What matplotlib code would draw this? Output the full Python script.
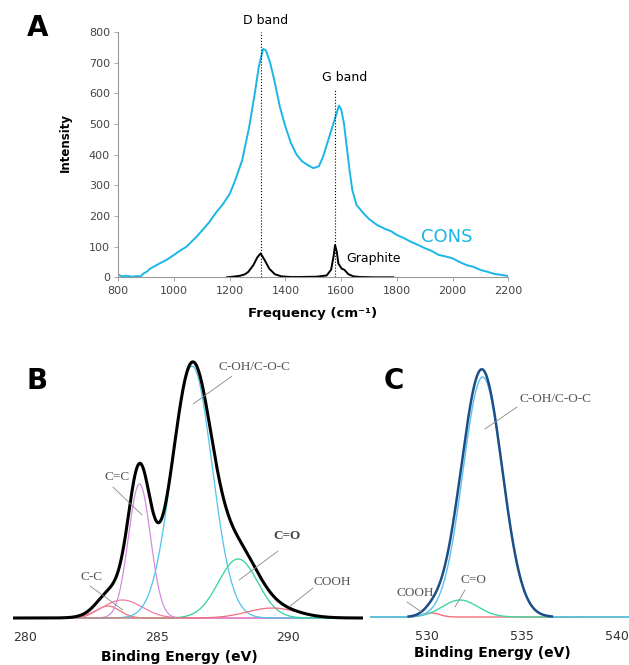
import numpy as np
import matplotlib
matplotlib.use("Agg")
import matplotlib.pyplot as plt

# ---- panel A: Raman spectra ----
cons_freq = [800, 815, 830, 850, 866, 880, 890, 905, 914, 930,
             950, 975, 1000, 1020, 1045, 1065, 1081, 1100, 1125, 1150,
             1175, 1200, 1220, 1245, 1270, 1290, 1305, 1320, 1330, 1345,
             1360, 1380, 1400, 1420, 1440, 1460, 1480, 1500, 1520, 1535,
             1550, 1565, 1580, 1592, 1600, 1610, 1620, 1630, 1640, 1655,
             1680, 1700, 1730, 1760, 1780, 1800, 1825, 1850, 1875, 1900,
             1925, 1950, 1975, 2000, 2025, 2050, 2075, 2100, 2125, 2150,
             2175, 2200]
cons_int = [8, 3, 5, 2, 4, 3, 12, 20, 28, 36,
            46, 58, 73, 86, 100, 118, 132, 152, 178, 210,
            238, 272, 317, 383, 491, 600, 690, 745, 740, 700,
            643, 556, 491, 437, 400, 378, 366, 356, 362, 393,
            437, 480, 524, 560, 548, 502, 426, 350, 285, 236,
            209, 190, 170, 157, 150, 138, 128, 116, 106, 95,
            86, 73, 68, 62, 50, 40, 34, 24, 18, 11,
            8, 4]

graphite_freq = [1190, 1201, 1220, 1237, 1255, 1267, 1285, 1299, 1311, 1326,
                 1342, 1362, 1386, 1420, 1452, 1512, 1548, 1564, 1573, 1578,
                 1584, 1590, 1602, 1611, 1626, 1644, 1668, 1720, 1787]
graphite_int = [0, 1, 3, 5, 10, 18, 40, 65, 78, 55,
                28, 10, 3, 1, 1, 2, 6, 25, 70, 105,
                85, 45, 28, 25, 10, 3, 1, 0, 0]

band_names = ["D band", "G band"]
band_pos = [1311, 1579]
band_top = [800, 611]

# ---- panel B: C1s fit components (center eV, height, sigma) ----
b_names = ["C-C", "C-C", "C=C", "C-OH/C-O-C", "C=O", "COOH"]
b_center = [283.15, 283.7, 284.35, 286.35, 288.1, 289.4]
b_height = [12, 18, 134, 252, 59, 10]
b_sigma = [0.45, 0.75, 0.42, 0.76, 0.75, 0.95]
b_colors = ["#f2707a", "#f07ca0", "#d68be3", "#4fc3ea", "#30d39a", "#f36f7c"]

# ---- panel C: O1s fit components ----
c_names = ["COOH", "C=O", "C-OH/C-O-C"]
c_center = [530.25, 531.74, 532.93]
c_height = [4, 17, 240]
c_sigma = [0.42, 0.93, 1.04]
c_colors = ["#f2707a", "#3fd8a0", "#5cc0ee"]


def gauss(x, c, h, s):
    return h * np.exp(-0.5 * ((x - c) / s) ** 2)


fig = plt.figure(figsize=(6.29, 6.65), dpi=100)
W, H = 629.0, 665.0


def px_axes(left, top, right, bottom):
    return fig.add_axes([left / W, 1 - bottom / H, (right - left) / W, (bottom - top) / H])


# ================= A =================
axA = px_axes(118.3, 32, 508.3, 277.3)
axA.plot(cons_freq, cons_int, color="#1bb6e8", lw=1.4)
axA.plot(graphite_freq, graphite_int, color="black", lw=1.4)
axA.vlines(band_pos, 0, band_top, colors="black", linestyles=":", lw=0.8)
axA.set_xlim(800, 2200)
axA.set_ylim(0, 800)
axA.set_xticks(range(800, 2201, 200))
axA.set_yticks(range(0, 801, 100))
for s in ["top", "right"]:
    axA.spines[s].set_visible(False)
for s in ["left", "bottom"]:
    axA.spines[s].set_color("#999999")
    axA.spines[s].set_linewidth(0.8)
axA.tick_params(direction="out", length=3, width=0.6, color="#999999",
                labelsize=8, labelcolor="#444444", pad=3)
axA.text(1328, 839, band_names[0], ha="center", va="center", fontsize=9, clip_on=False)
axA.text(1614, 650, band_names[1], ha="center", va="center", fontsize=9)
axA.text(1617, 62, "Graphite", ha="left", va="center", fontsize=9)
axA.text(1978, 130, "CONS", ha="center", va="center", fontsize=13, color="#1bb6e8")

fig.text(65 / W, 1 - 143 / H, "Intensity", rotation=90, ha="center", va="center",
         fontsize=8.5, fontweight="bold")
fig.text(313 / W, 1 - 314 / H, "Frequency (cm\u207b\u00b9)", ha="center", va="center",
         fontsize=9.5, fontweight="bold")

# ================= B =================
axB = px_axes(13, 353, 363, 623)
xb = np.linspace(279.54, 292.85, 800)
env_b = np.zeros_like(xb)
for c, h, s, col in zip(b_center, b_height, b_sigma, b_colors):
    yb = gauss(xb, c, h, s)
    env_b += yb
    axB.plot(xb, yb, color=col, lw=0.9)
axB.plot(xb, env_b, color="black", lw=2.2)
axB.set_xlim(279.54, 292.85)
axB.set_ylim(-5, 265)
axB.set_xticks([280, 285, 290])
axB.set_yticks([])
for s in axB.spines.values():
    s.set_visible(False)
axB.tick_params(length=0, labelsize=9, labelcolor="#333333", pad=6)
axB.patch.set_alpha(0)

lab_kw = dict(fontsize=9.5, color="#555555", family="Liberation Serif",
              ha="center", va="center")
line_kw = dict(arrowstyle="-", color="#888888", lw=0.6, shrinkA=0, shrinkB=0)

b_labels = [
    ("C-OH/C-O-C", (288.74, 251), (287.87, 242), (286.39, 214)),
    ("C=C", (283.50, 141), (283.34, 131), (284.45, 103)),
    ("C-C", (282.51, 41), (282.47, 32), (283.72, 8)),
    ("C=O", (289.96, 82), (289.62, 67), (288.14, 38)),
    ("COOH", (291.67, 36), (290.95, 30), (290.04, 11)),
]
for name, tpos, lstart, lend in b_labels:
    kw = dict(lab_kw)
    if name == "C=O":
        kw.update(fontweight="bold", color="#444444")
    axB.text(tpos[0], tpos[1], name, **kw)
    axB.annotate("", xy=lend, xytext=lstart, arrowprops=line_kw)

# ================= C =================
axC = px_axes(370, 352, 629, 622)
xc = np.linspace(527.0, 540.63, 800)
env_c = np.zeros_like(xc)
for c, h, s, col in zip(c_center, c_height, c_sigma, c_colors):
    yc = gauss(xc, c, h, s)
    env_c += yc
    axC.plot(xc, yc, color=col, lw=1.0)
env_c[env_c < 0.5] = np.nan
axC.plot(xc, env_c, color="#1c4f87", lw=1.8)
axC.set_xlim(527.0, 540.63)
axC.set_ylim(-5, 265)
axC.set_xticks([530, 535, 540])
axC.set_yticks([])
for s in axC.spines.values():
    s.set_visible(False)
axC.tick_params(length=0, labelsize=9, labelcolor="#333333", pad=6)
axC.patch.set_alpha(0)

c_labels = [
    ("C-OH/C-O-C", (536.74, 218), (534.74, 210), (533.05, 188)),
    ("C=O", (532.42, 37), (532.0, 27), (531.47, 10)),
    ("COOH", (529.37, 24), (528.95, 15), (529.79, 4)),
]
for name, tpos, lstart, lend in c_labels:
    axC.text(tpos[0], tpos[1], name, **lab_kw)
    axC.annotate("", xy=lend, xytext=lstart, arrowprops=line_kw)

fig.text(179 / W, 1 - 657 / H, "Binding Energy (eV)", ha="center", va="center",
         fontsize=10, fontweight="bold")
fig.text(492 / W, 1 - 653 / H, "Binding Energy (eV)", ha="center", va="center",
         fontsize=10, fontweight="bold")

# panel letters
fig.text(38 / W, 1 - 28 / H, "A", ha="center", va="center", fontsize=20, fontweight="bold")
fig.text(37.5 / W, 1 - 381 / H, "B", ha="center", va="center", fontsize=20, fontweight="bold")
fig.text(394 / W, 1 - 381 / H, "C", ha="center", va="center", fontsize=20, fontweight="bold")

fig.savefig("out.png", dpi=100)
